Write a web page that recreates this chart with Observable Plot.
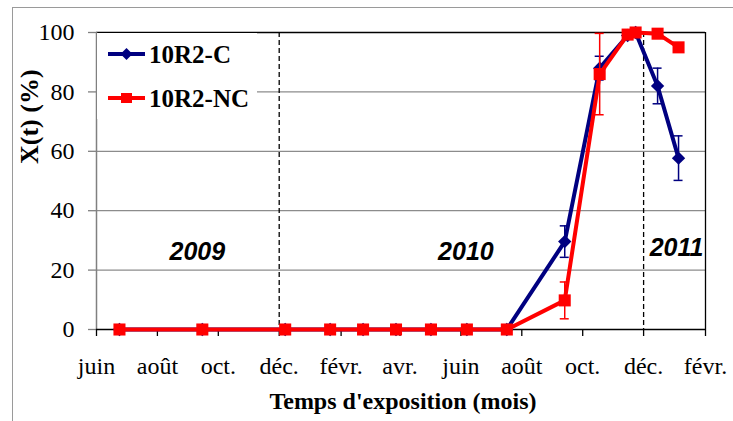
<!DOCTYPE html>
<html><head><meta charset="utf-8">
<script src="https://cdn.jsdelivr.net/npm/d3@7"></script>
<script src="https://cdn.jsdelivr.net/npm/@observablehq/plot@0.6"></script>
<style>
html,body{margin:0;padding:0;background:#fff;overflow:hidden;}
#wrap{position:relative;width:733px;height:421px;overflow:hidden;}
#frame{position:absolute;left:12px;top:7px;width:760px;height:460px;border-left:1.5px solid #9a9a9a;border-top:1.5px solid #9a9a9a;pointer-events:none;}
#legend{position:absolute;left:97px;top:33px;width:160px;height:86px;background:#fff;}
</style></head><body>
<div id="wrap"><div id="chart"></div><div id="frame"></div><div id="legend"></div></div>
<script>
// ---- data ----
const dates = ["2009-06-24","2009-09-15","2009-12-07","2010-01-21","2010-02-23","2010-03-28","2010-05-02","2010-06-07","2010-07-17","2010-09-13","2010-10-18","2010-11-15","2010-11-23","2010-12-15","2011-01-05"];
const seriesC = [0,0,0,0,0,0,0,0,0,29.6,88,99,100,82,57.7];
const errC    = [0,0,0,0,0,0,0,0,0,5.3,4,0,0,6,7.5];
const seriesNC = [0,0,0,0,0,0,0,0,0,9.8,86,99.3,100,99.6,95];
const errNC    = [0,0,0,0,0,0,0,0,0,6.2,13.7,0,0,0,0];
const seriesNames = ["10R2-C","10R2-NC"];
const xDomain = ["2009-06-01","2011-02-01"];
const tickDates = ["2009-06-01","2009-08-01","2009-10-01","2009-12-01","2010-02-01","2010-04-01","2010-06-01","2010-08-01","2010-10-01","2010-12-01","2011-02-01"];
const tickLabels = ["juin","août","oct.","déc.","févr.","avr.","juin","août","oct.","déc.","févr."];
const yTicks = [0,20,40,60,80,100];
const yearBreaks = ["2009-12-01","2010-12-01"];
const yearLabels = ["2009","2010","2011"];
const yearLabelDates = ["2009-09-10","2010-06-06","2011-01-03"];
const yearLabelY = [26,26,27.5];
const xTitle = "Temps d'exposition (mois)";
const yTitle = "X(t) (%)";

// ---- build ----
const SERIF = "'Liberation Serif', 'Times New Roman', Times, serif";
const SANS = "'Liberation Sans', Arial, Helvetica, sans-serif";
const parse = d3.utcParse("%Y-%m-%d");
const rows = dates.map((d,i)=>({date:parse(d), c:seriesC[i], ec:errC[i], nc:seriesNC[i], enc:errNC[i]}));
const capHalf = 4.5*864e5;
const barsC = rows.filter(r=>r.ec>0);
const barsNC = rows.filter(r=>r.enc>0);
const labelMap = new Map(tickDates.map((d,i)=>[+parse(d), tickLabels[i]]));
const years = yearLabels.map((t,i)=>({t, date:parse(yearLabelDates[i]), y:yearLabelY[i]}));
const dom = xDomain.map(parse);
const gridVals = yTicks.slice(1,-1);
const BLUE = "#000080", RED = "#ff0000";

const chart = Plot.plot({
  width:733, height:421,
  marginLeft:96, marginRight:28, marginTop:32, marginBottom:92,
  style:{fontFamily:SERIF, fontSize:"24px", color:"#000", background:"transparent", overflow:"visible"},
  x:{type:"utc", domain:dom},
  y:{domain:[yTicks[0], yTicks[yTicks.length-1]]},
  marks:[
    Plot.ruleY(gridVals, {stroke:"#8c8c8c", strokeWidth:1.3}),
    Plot.ruleX(yearBreaks.map(parse), {stroke:"#000", strokeDasharray:"5,3", strokeWidth:1.3}),
    Plot.ruleY([yTicks[yTicks.length-1]], {stroke:"#000", strokeWidth:1.3}),
    Plot.ruleX([dom[1]], {stroke:"#000", strokeWidth:1.3}),
    Plot.ruleX([dom[0]], {stroke:"#808080", strokeWidth:1.5}),
    Plot.ruleY([yTicks[0]], {stroke:"#000", strokeWidth:1.3}),
    Plot.axisY({ticks:yTicks, tickSize:8, tickPadding:14, label:null, stroke:"#808080", strokeWidth:1.3, fontFamily:SERIF, fontVariant:"normal", fontSize:24}),
    Plot.axisX({ticks:tickDates.map(parse), tickFormat:d=>labelMap.get(+d), tickSize:7, tickPadding:20, label:null, strokeWidth:1.3, fontFamily:SERIF, fontSize:24}),
    Plot.text(years, {x:"date", y:"y", text:"t", fontFamily:SANS, fontWeight:"bold", fontStyle:"italic", fontSize:25}),
    // blue series
    Plot.ruleX(barsC, {x:"date", y1:d=>d.c-d.ec, y2:d=>d.c+d.ec, stroke:BLUE, strokeWidth:1.5}),
    Plot.ruleY(barsC, {y:d=>d.c-d.ec, x1:d=>new Date(+d.date-capHalf), x2:d=>new Date(+d.date+capHalf), stroke:BLUE, strokeWidth:1.5}),
    Plot.ruleY(barsC, {y:d=>d.c+d.ec, x1:d=>new Date(+d.date-capHalf), x2:d=>new Date(+d.date+capHalf), stroke:BLUE, strokeWidth:1.5}),
    Plot.line(rows, {x:"date", y:"c", stroke:BLUE, strokeWidth:4}),
    Plot.dot(rows, {x:"date", y:"c", symbol:"diamond2", r:6, fill:BLUE, stroke:null}),
    // red series
    Plot.ruleX(barsNC, {x:"date", y1:d=>d.nc-d.enc, y2:d=>d.nc+d.enc, stroke:RED, strokeWidth:1.5}),
    Plot.ruleY(barsNC, {y:d=>d.nc-d.enc, x1:d=>new Date(+d.date-capHalf), x2:d=>new Date(+d.date+capHalf), stroke:RED, strokeWidth:1.5}),
    Plot.ruleY(barsNC, {y:d=>d.nc+d.enc, x1:d=>new Date(+d.date-capHalf), x2:d=>new Date(+d.date+capHalf), stroke:RED, strokeWidth:1.5}),
    Plot.line(rows, {x:"date", y:"nc", stroke:RED, strokeWidth:4}),
    Plot.dot(rows, {x:"date", y:"nc", symbol:"square", r:6.8, fill:RED, stroke:null}),
    // titles
    Plot.text([xTitle], {frameAnchor:"bottom", dx:2, dy:79, fontFamily:SERIF, fontWeight:"bold", fontSize:24}),
    Plot.text([yTitle], {frameAnchor:"left", dx:-67, dy:-17, rotate:-90, fontFamily:SERIF, fontWeight:"bold", fontSize:26, letterSpacing:"2.5px"})
  ]
});
document.getElementById("chart").appendChild(chart);

// legend (drawn inside plot area, top-left)
const lg = d3.select("#legend").append("svg").attr("width",160).attr("height",86);
const items = [{name:seriesNames[0], color:BLUE, sym:"diamond"},{name:seriesNames[1], color:RED, sym:"square"}];
items.forEach((it,i)=>{
  const cy = 21 + i*44;
  const g = lg.append("g");
  g.append("line").attr("x1",11).attr("x2",48).attr("y1",cy).attr("y2",cy).attr("stroke",it.color).attr("stroke-width",4);
  if(it.sym==="diamond") g.append("path").attr("d",`M29.5,${cy-6}L35.5,${cy}L29.5,${cy+6}L23.5,${cy}Z`).attr("fill",it.color);
  else g.append("rect").attr("x",24).attr("y",cy-5).attr("width",11).attr("height",10).attr("fill",it.color);
  g.append("text").attr("x",52).attr("y",cy).attr("dy","0.35em")
    .attr("font-family",SERIF).attr("font-weight","bold").attr("font-size",25).text(it.name);
});
</script>
</body></html>
